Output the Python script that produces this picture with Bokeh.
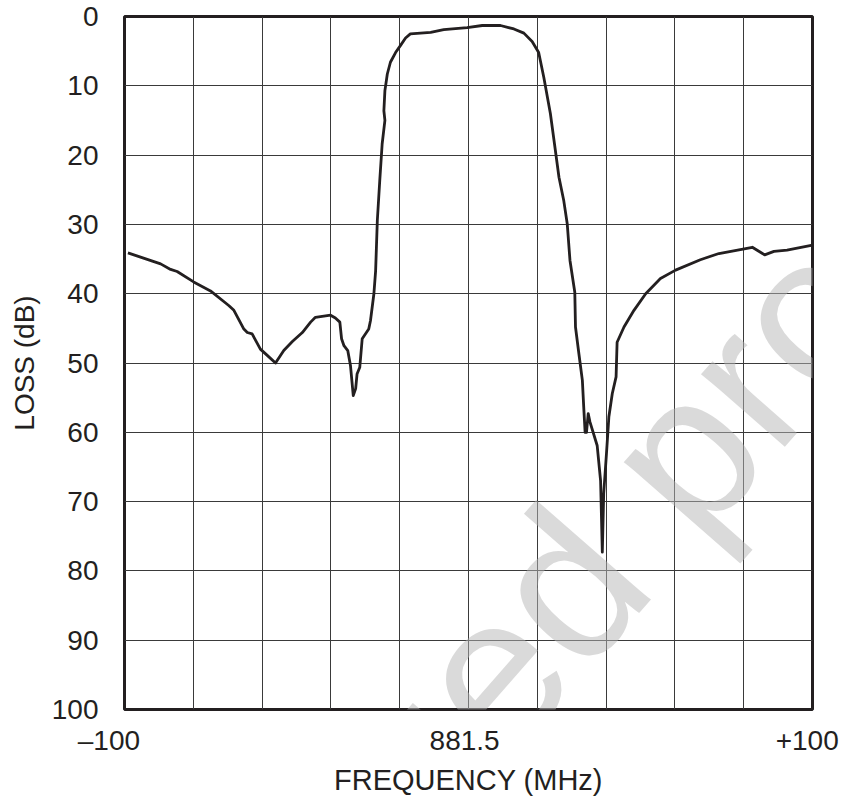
import math
from bokeh.plotting import figure
from bokeh.models import Range1d, FixedTicker, Label
from bokeh.embed import file_html
from bokeh.resources import INLINE

# Frequency offset from 881.5 MHz (MHz) and loss (dB)
freq_offset = [-99.0, -89.5, -86.6, -84.7, -79.9, -75.0, -69.7, -68.2, -65.3, -64.3,
               -62.9, -60.5, -58.5, -56.1, -53.7, -51.2, -48.3, -45.9, -44.5, -40.1,
               -38.7, -37.4, -36.9, -36.2, -35.1, -34.3, -33.5, -32.8, -32.4, -31.6,
               -30.9, -29.0, -28.5, -27.5, -27.0, -26.5, -25.8, -25.1, -24.3, -24.6,
               -24.3, -23.6, -22.7, -21.2, -19.8, -18.3, -16.9, -11.0, -7.2, -0.4,
               4.0, 9.3, 13.2, 16.1, 18.5, 20.4, 21.9, 23.8, 25.0, 26.3,
               27.7, 28.7, 29.5, 30.9, 31.1, 32.1, 33.1, 33.5, 33.9, 34.3,
               34.8, 35.3, 37.4, 38.4, 38.9, 39.3, 40.1, 40.8, 41.8, 42.9,
               43.2, 45.2, 48.1, 51.5, 55.8, 60.2, 67.4, 72.8, 82.5, 86.1,
               88.8, 92.6, 100.0]
loss_db = [34.1, 35.7, 36.5, 36.8, 38.3, 39.6, 41.7, 42.4, 45.1, 45.6,
           45.8, 48.0, 48.9, 50.0, 48.2, 46.9, 45.6, 44.1, 43.4, 43.1,
           43.5, 44.1, 46.5, 47.5, 48.2, 50.4, 54.7, 53.7, 51.6, 50.6,
           46.5, 45.1, 43.9, 40.0, 36.7, 29.4, 23.7, 18.4, 15.0, 13.6,
           10.7, 8.3, 6.6, 5.2, 4.2, 3.1, 2.5, 2.3, 1.9, 1.6,
           1.3, 1.3, 1.8, 2.4, 3.6, 5.2, 8.8, 14.0, 18.4, 23.2,
           26.6, 29.9, 35.2, 39.8, 44.8, 48.7, 52.5, 56.4, 60.0, 60.0,
           57.3, 58.5, 61.9, 67.0, 77.3, 68.9, 63.1, 57.8, 54.4, 52.0,
           47.0, 44.8, 42.4, 40.0, 37.8, 36.6, 35.1, 34.2, 33.3, 34.4,
           33.9, 33.7, 33.0]

x_tick_values = [-100, 0, 100]
x_tick_labels = ["\u2013100", "881.5", "+100"]
x_grid_values = list(range(-100, 101, 20))
y_tick_values = list(range(0, 101, 10))
x_title = "FREQUENCY (MHz)"
y_title = "LOSS (dB)"
watermark = "Discontinued product"

INK = "#231f20"
FONT = "Liberation Sans"
NB = "\u00a0"

p = figure(width=846, height=805, output_backend="svg", toolbar_location=None,
           x_range=Range1d(-100, 100), y_range=Range1d(100, 0),
           min_border_left=124, min_border_right=34, min_border_top=16,
           min_border_bottom=96, background_fill_color="white",
           border_fill_color="white")

p.xgrid.ticker = FixedTicker(ticks=x_grid_values)
p.ygrid.ticker = FixedTicker(ticks=y_tick_values)
for g in (p.xgrid, p.ygrid):
    g.grid_line_color = "#3a3a3a"
    g.grid_line_width = 1

# padding (non-breaking spaces) nudges the centred tick labels as in the reference
pads = {-100: NB * 4, 0: NB, 100: NB}

xa = p.xaxis[0]
xa.ticker = FixedTicker(ticks=x_tick_values)
xa.major_label_overrides = {v: t + pads[v] for v, t in zip(x_tick_values, x_tick_labels)}
xa.axis_label = x_title
xa.axis_label_standoff = 5
xa.axis_label_text_font = FONT
xa.axis_label_text_font_size = "29px"
xa.axis_label_text_font_style = "normal"
xa.axis_label_text_color = INK
xa.major_label_standoff = 15

ya = p.yaxis[0]
ya.ticker = FixedTicker(ticks=y_tick_values)
ya.axis_label = y_title
ya.axis_label_standoff = 9
ya.axis_label_text_font = FONT
ya.axis_label_text_font_size = "28px"
ya.axis_label_text_font_style = "normal"
ya.axis_label_text_color = INK
ya.major_label_standoff = 26

for ax in (xa, ya):
    ax.axis_line_color = None
    ax.major_tick_line_color = None
    ax.minor_tick_line_color = None
    ax.major_tick_out = 0
    ax.major_tick_in = 0
    ax.major_label_text_font = FONT
    ax.major_label_text_font_size = "28px"
    ax.major_label_text_color = INK

p.outline_line_color = INK
p.outline_line_width = 3

p.line(freq_offset, loss_db, line_color=INK, line_width=2.8, line_join="round")

# watermark
p.add_layout(Label(x=-192.7, y=207.6, text=watermark, angle=math.radians(48.8),
                   text_align="left", text_baseline="alphabetic",
                   text_font=FONT, text_font_size="210px",
                   text_color="#b5b5b5", text_alpha=0.5, level="overlay"))

open("out.html", "w").write(file_html(p, INLINE))
